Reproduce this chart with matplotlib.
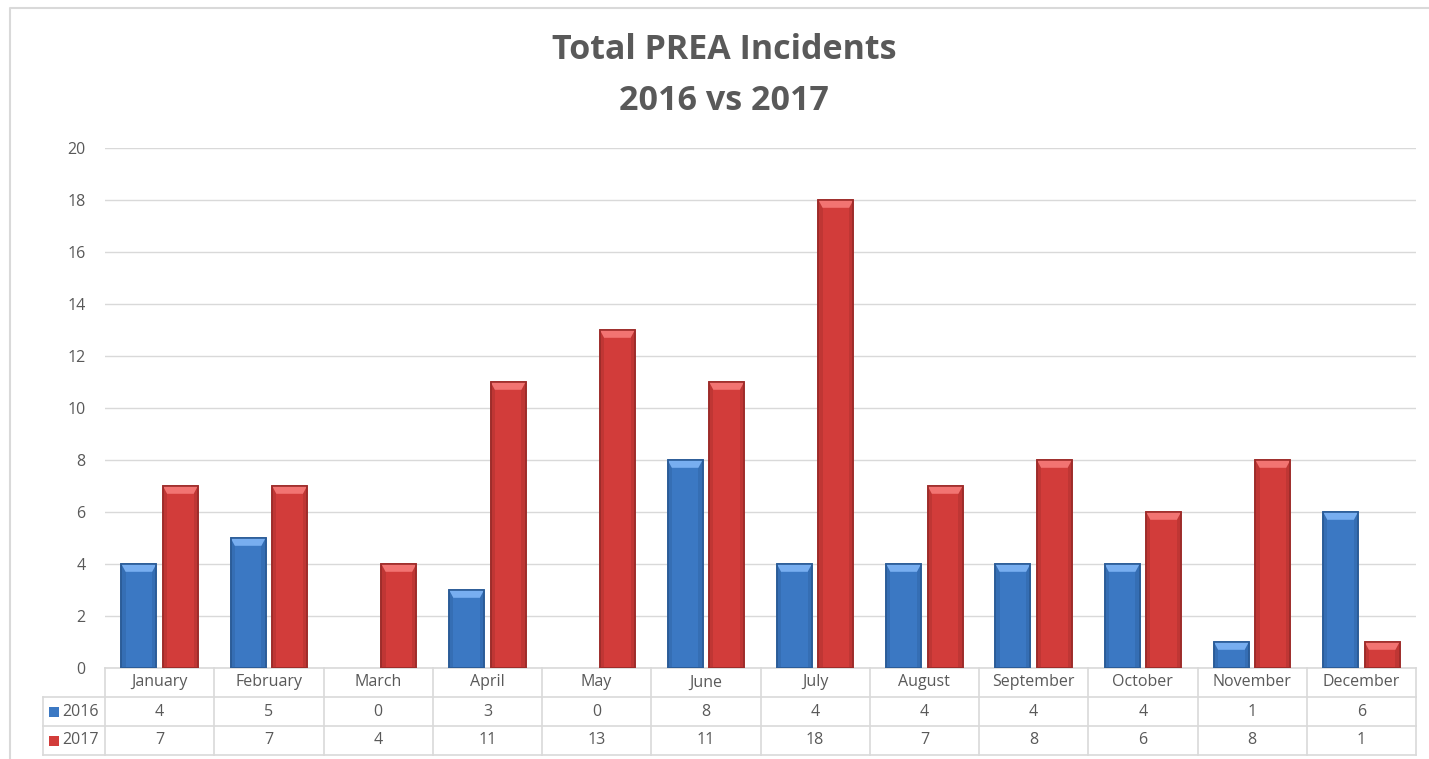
import numpy as np
import matplotlib.pyplot as plt
from matplotlib.patches import Rectangle, Polygon
from matplotlib.lines import Line2D

months = ['January', 'February', 'March', 'April', 'May', 'June', 'July',
          'August', 'September', 'October', 'November', 'December']
vals_2016 = [4, 5, 0, 3, 0, 8, 4, 4, 4, 4, 1, 6]
vals_2017 = [7, 7, 4, 11, 13, 11, 18, 7, 8, 6, 8, 1]
series_names = ['2016', '2017']
y_ticks = [0, 2, 4, 6, 8, 10, 12, 14, 16, 18, 20]

BLUE = '#3b78c3'
BLUE_LT = '#78aef0'
BLUE_DK = '#2b5c98'
RED = '#d23c3a'
RED_LT = '#f27472'
RED_DK = '#9e2c2a'
GRAY_TXT = '#595959'
GRID = '#d9d9d9'

plt.rcParams['font.family'] = ['Open Sans', 'DejaVu Sans']

W, H = 1429, 759
fig = plt.figure(figsize=(W / 100, H / 100), dpi=100)
fig.patch.set_facecolor('white')

# outer chart border (top and left only, the rest is cut off)
fig.add_artist(Line2D([10 / W, 10 / W, 1.0], [0.0, 1 - 8 / H, 1 - 8 / H],
                      transform=fig.transFigure, color='#d9d9d9', lw=1.5))

ax_l, ax_r, ax_t, ax_b = 105, 1416, 148, 668
ax = fig.add_axes([ax_l / W, 1 - ax_b / H, (ax_r - ax_l) / W, (ax_b - ax_t) / H])

x = np.arange(len(months))
bw = 0.32
off = 0.19


def bevel_bar(cx, h, face, light, dark):
    if h <= 0:
        return
    left, right = cx - bw / 2, cx + bw / 2
    ax.add_patch(Rectangle((left, 0), bw, h, facecolor=face,
                           edgecolor=dark, lw=1.2, zorder=3))
    # darker side strips
    sw = bw * 0.12
    ax.add_patch(Rectangle((left, 0), sw, h, facecolor=dark, alpha=0.35,
                           lw=0, zorder=4))
    ax.add_patch(Rectangle((right - sw, 0), sw, h, facecolor=dark, alpha=0.35,
                           lw=0, zorder=4))
    # light top bevel
    bh = min(0.3, h)
    ax.add_patch(Polygon([(left, h), (right, h), (right - sw, h - bh),
                          (left + sw, h - bh)], closed=True,
                         facecolor=light, edgecolor='none', zorder=4))
    ax.add_patch(Rectangle((left, 0), bw, h, fill=False,
                           edgecolor=dark, lw=1.2, zorder=5))


for i in range(len(months)):
    bevel_bar(x[i] - off, vals_2016[i], BLUE, BLUE_LT, BLUE_DK)
    bevel_bar(x[i] + off, vals_2017[i], RED, RED_LT, RED_DK)

ax.set_xlim(-0.5, len(months) - 0.5)
ax.set_ylim(0, 20)
ax.set_yticks(y_ticks)
ax.set_yticklabels([str(v) for v in y_ticks])
ax.set_xticks([])
ax.tick_params(axis='y', length=0, pad=14, labelsize=11.5, labelcolor=GRAY_TXT)
ax.grid(axis='y', color=GRID, lw=1, zorder=0)
ax.set_axisbelow(True)
for s in ['top', 'right', 'left']:
    ax.spines[s].set_visible(False)
ax.spines['bottom'].set_color(GRID)
ax.spines['bottom'].set_linewidth(1.2)

# data table below the axes
row_h = 29 / (ax_b - ax_t)
hdr_left = -0.5 - (ax_l - 43) / ((ax_r - ax_l) / len(months))
tr = ax.get_xaxis_transform()
line_kw = dict(color=GRID, lw=1.2, transform=tr, clip_on=False)

for k in range(len(months) + 1):
    ax.plot([k - 0.5, k - 0.5], [0, -3 * row_h], **line_kw)
ax.plot([hdr_left, hdr_left], [-row_h, -3 * row_h], **line_kw)
for r in (1, 2, 3):
    ax.plot([hdr_left, len(months) - 0.5], [-r * row_h, -r * row_h], **line_kw)

for i, m in enumerate(months):
    ax.text(x[i], -0.5 * row_h, m, transform=tr, ha='center', va='center',
            fontsize=11.5, color=GRAY_TXT)
    ax.text(x[i], -1.5 * row_h, str(vals_2016[i]), transform=tr, ha='center',
            va='center', fontsize=11.5, color=GRAY_TXT)
    ax.text(x[i], -2.5 * row_h, str(vals_2017[i]), transform=tr, ha='center',
            va='center', fontsize=11.5, color=GRAY_TXT)

for r, (name, col) in enumerate(zip(series_names, [BLUE, RED])):
    yc = 1 - (ax_b + (r + 1.5) * 29) / H
    fig.add_artist(Rectangle((49 / W, yc - 5 / H), 10 / W, 10 / H,
                             transform=fig.transFigure, facecolor=col,
                             edgecolor='none'))
    fig.text(62 / W, yc, name, ha='left', va='center', fontsize=11.5,
             color=GRAY_TXT)

fig.text(724 / W, 1 - 50 / H, 'Total PREA Incidents',
         ha='center', va='center', fontsize=24.5, fontweight='bold', color=GRAY_TXT)
fig.text(724 / W, 1 - 101 / H, '2016 vs 2017',
         ha='center', va='center', fontsize=24.5, fontweight='bold', color=GRAY_TXT)

fig.savefig('out.png', dpi=100, facecolor='white')
